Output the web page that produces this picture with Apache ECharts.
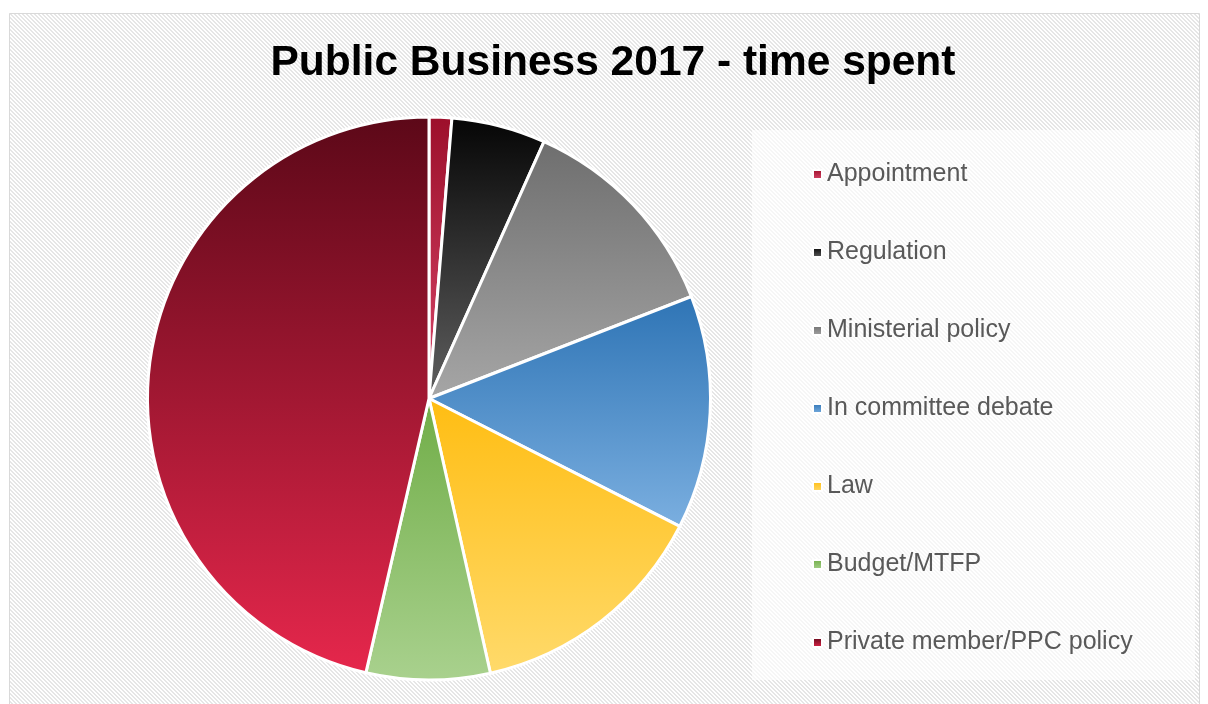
<!DOCTYPE html>
<html>
<head>
<meta charset="utf-8">
<script src="https://cdn.jsdelivr.net/npm/echarts@6/dist/echarts.min.js"></script>
<style>
html,body{margin:0;padding:0;background:#fff;}
#main{width:1208px;height:704px;}
</style>
</head>
<body>
<div id="main"></div>
<script>
const titleText = 'Public Business 2017 - time spent';
const categories = ['Appointment','Regulation','Ministerial policy','In committee debate','Law','Budget/MTFP','Private member/PPC policy'];
const values = [1.3, 5.4, 12.4, 13.4, 14.0, 7.1, 46.4];
const topColors = ['#9c0f2a','#050505','#6e6e6e','#2e74b5','#ffbd12','#70ad47','#5c0818'];
const bottomColors = ['#d8476a','#606060','#a6a6a6','#7bafe0','#ffda6b','#a9d18e','#e6274c'];

function makePattern(){
  const c = document.createElement('canvas');
  c.width = 4; c.height = 4;
  const ctx = c.getContext('2d');
  ctx.fillStyle = '#ffffff';
  ctx.fillRect(0,0,4,4);
  ctx.fillStyle = '#e6e6e6';
  for (let y=0;y<4;y++){
    for (let x=0;x<4;x++){
      const m = ((x - y) % 4 + 4) % 4;
      if (m===0 || m===1) ctx.fillRect(x,y,1,1);
    }
  }
  return c;
}
const pat = makePattern();

const chart = echarts.init(document.getElementById('main'), null, {renderer:'canvas'});
const data = categories.map((n,i)=>({
  name:n, value:values[i],
  itemStyle:{color:new echarts.graphic.LinearGradient(0,0,0,1,[{offset:0,color:topColors[i]},{offset:1,color:bottomColors[i]}])}
}));
chart.setOption({
  animation:false,
  backgroundColor:'#ffffff',
  graphic:[
    {type:'rect', z:-10, shape:{x:9.5,y:13.5,width:1190,height:700}, style:{fill:{image:pat, repeat:'repeat'}, stroke:'#d9d9d9', lineWidth:1}, silent:true},
    {type:'rect', z:-9, shape:{x:752,y:130,width:443,height:550}, style:{fill:'rgba(255,255,255,0.65)'}, silent:true}
  ],
  title:{
    text:titleText, top:37, left:608, textAlign:'center',
    textStyle:{fontFamily:'Liberation Sans, Arial, sans-serif', fontWeight:'bold', fontSize:42.5, color:'#000'}
  },
  legend:{
    orient:'vertical', left:807, top:157,
    icon:'rect', itemWidth:9, itemHeight:9, itemGap:53,
    textStyle:{fontFamily:'Liberation Sans, Arial, sans-serif', fontSize:25, color:'#595959', lineHeight:25},
    data:categories
  },
  series:[{
    type:'pie', center:[429,398.5], radius:[0,281.5], startAngle:90, clockwise:true,
    label:{show:false}, labelLine:{show:false},
    emphasis:{disabled:true},
    itemStyle:{borderColor:'#ffffff', borderWidth:3},
    data:data
  }]
});
</script>
</body>
</html>
